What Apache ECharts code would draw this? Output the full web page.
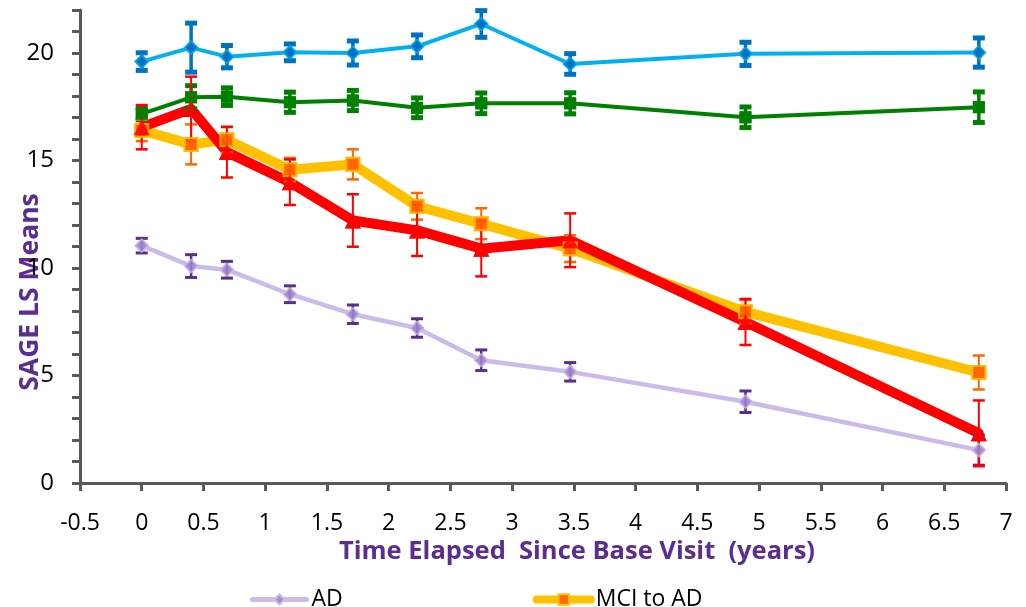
<!DOCTYPE html>
<html>
<head>
<meta charset="utf-8">
<script src="https://cdn.jsdelivr.net/npm/echarts@6/dist/echarts.min.js"></script>
<style>
  html, body { margin: 0; padding: 0; background: #fff; }
  #chart { width: 1026px; height: 607px; }
</style>
</head>
<body>
<div id="chart"></div>
<script>
// Visit times (years since base visit)
const years = [0, 0.4, 0.69, 1.2, 1.71, 2.23, 2.75, 3.47, 4.89, 6.78];

// SAGE least-squares means and error half-widths per group
const normalMean = [19.6, 20.25, 19.83, 20.03, 20.0, 20.31, 21.35, 19.49, 19.96, 20.02];
const normalErr  = [0.41, 1.14, 0.52, 0.39, 0.56, 0.53, 0.62, 0.48, 0.54, 0.68];

const mciMean = [17.17, 17.94, 17.97, 17.71, 17.79, 17.45, 17.66, 17.66, 17.01, 17.48];
const mciErr  = [0.28, 0.54, 0.41, 0.47, 0.47, 0.46, 0.48, 0.49, 0.48, 0.71];

const normalToAdMean = [16.55, 17.4, 15.39, 13.99, 12.21, 11.75, 10.9, 11.29, 7.49, 2.31];
const normalToAdErr  = [1.03, 1.5, 1.18, 1.06, 1.22, 1.19, 1.29, 1.25, 1.07, 1.53];

const mciToAdMean = [16.4, 15.75, 15.96, 14.57, 14.82, 12.87, 12.06, 10.9, 7.96, 5.14];
const mciToAdErr  = [0.5, 0.93, 0.59, 0.55, 0.7, 0.62, 0.72, 0.62, 0.55, 0.79];

const adMean = [11.04, 10.09, 9.92, 8.78, 7.85, 7.21, 5.71, 5.17, 3.78, 1.53];
const adErr  = [0.34, 0.53, 0.39, 0.39, 0.43, 0.43, 0.48, 0.43, 0.5, 0.7];

const legendNames = ['AD', 'MCI to AD'];
const xTitle = 'Time Elapsed  Since Base Visit  (years)';
const yTitle = 'SAGE LS Means';

const FONT = '"Open Sans", "Noto Sans", sans-serif';
const AXIS_GREY = '#595959';
const TITLE_PURPLE = '#5C2D91';

function pairs(means) {
  return years.map((x, i) => [x, means[i]]);
}

function lineSeries(name, means, o) {
  return {
    name: name,
    type: 'line',
    data: pairs(means),
    z: o.z,
    symbol: o.symbol,
    symbolSize: o.symbolSize,
    lineStyle: { color: o.line, width: o.width, cap: 'round', join: 'round' },
    itemStyle: { color: o.fill, borderColor: o.border, borderWidth: o.borderWidth || 0 },
    emphasis: { disabled: true },
    animation: false
  };
}

function markerSeries(means, o) {
  return {
    type: 'scatter',
    data: pairs(means),
    z: 6,
    symbol: o.symbol,
    symbolSize: o.symbolSize,
    itemStyle: { color: o.fill, borderColor: o.border, borderWidth: o.borderWidth || 0 },
    emphasis: { disabled: true },
    animation: false
  };
}

function errorSeries(means, errs, o) {
  const data = years.map((x, i) => [x, means[i] - errs[i], means[i] + errs[i]]);
  return {
    type: 'custom',
    data: data,
    z: 5,
    encode: { x: 0, y: [1, 2] },
    animation: false,
    renderItem: function (params, api) {
      const x = api.value(0);
      const lo = api.coord([x, api.value(1)]);
      const hi = api.coord([x, api.value(2)]);
      const h = o.capHalf;
      const capStyle = { stroke: o.color, lineWidth: o.capWidth };
      return {
        type: 'group',
        children: [
          { type: 'line', shape: { x1: lo[0], y1: lo[1], x2: hi[0], y2: hi[1] },
            style: { stroke: o.color, lineWidth: o.width } },
          { type: 'line', shape: { x1: hi[0] - h, y1: hi[1], x2: hi[0] + h, y2: hi[1] }, style: capStyle },
          { type: 'line', shape: { x1: lo[0] - h, y1: lo[1], x2: lo[0] + h, y2: lo[1] }, style: capStyle }
        ]
      };
    }
  };
}

const styles = {
  ad:        { line: '#CCBBEA', width: 4.5, symbol: 'diamond', symbolSize: 13, fill: '#A48FD0', border: '#CCBBEA', borderWidth: 1.5, z: 2 },
  mci:       { line: '#008000', width: 4, symbol: 'rect', symbolSize: 12, fill: '#008000', border: '#008000', z: 2 },
  normal:    { line: '#00B0F0', width: 4, symbol: 'diamond', symbolSize: 13, fill: '#0070C0', border: '#00B0F0', borderWidth: 1.5, z: 2 },
  mciToAd:   { line: '#FFC000', width: 10, symbol: 'rect', symbolSize: 13, fill: '#FF6600', border: '#FFC000', borderWidth: 2, z: 3 },
  normalToAd:{ line: '#FF0000', width: 10, symbol: 'triangle', symbolSize: 16, fill: '#FF0000', border: '#FF0000', z: 4 }
};

const errStyles = {
  ad:         { color: '#5B2D8E', width: 2.5, capWidth: 3, capHalf: 6 },
  mci:        { color: '#008000', width: 3.5, capWidth: 5, capHalf: 6 },
  normal:     { color: '#0070C0', width: 3.5, capWidth: 5, capHalf: 6 },
  mciToAd:    { color: '#FF6600', width: 2, capWidth: 2.5, capHalf: 6 },
  normalToAd: { color: '#FF0000', width: 2, capWidth: 2.5, capHalf: 6 }
};

const chart = echarts.init(document.getElementById('chart'), null, { renderer: 'canvas' });

chart.setOption({
  backgroundColor: '#ffffff',
  animation: false,
  grid: { left: 80, top: 10, width: 926, height: 473, containLabel: false },
  xAxis: {
    type: 'value',
    min: -0.5,
    max: 7,
    interval: 0.5,
    axisLine: { show: true, onZero: false, lineStyle: { color: AXIS_GREY, width: 3 } },
    axisTick: { show: true, inside: false, length: 8, lineStyle: { color: AXIS_GREY, width: 3 } },
    axisLabel: { color: '#000', fontFamily: FONT, fontSize: 23, margin: 29 },
    splitLine: { show: false }
  },
  yAxis: {
    type: 'value',
    min: 0,
    max: 22,
    interval: 1,
    axisLine: { show: true, onZero: false, lineStyle: { color: AXIS_GREY, width: 3 } },
    axisTick: { show: true, inside: false, length: 8, lineStyle: { color: AXIS_GREY, width: 3 } },
    axisLabel: {
      color: '#000', fontFamily: FONT, fontSize: 24, margin: 26,
      formatter: function (v) { return v % 5 === 0 ? String(v) : ''; }
    },
    splitLine: { show: false }
  },
  legend: {
    data: [
      { name: legendNames[0], lineStyle: { width: 5 } },
      { name: legendNames[1], lineStyle: { width: 8 } }
    ],
    left: 245,
    top: 583,
    itemWidth: 54,
    itemHeight: 13,
    itemGap: 190,
    textStyle: { color: '#000', fontFamily: FONT, fontSize: 23 },
    selectedMode: false
  },
  graphic: [
    {
      type: 'text',
      x: 577, y: 552,
      style: {
        text: xTitle, fill: TITLE_PURPLE, font: 'bold 25.5px ' + FONT,
        textAlign: 'center', textVerticalAlign: 'middle'
      }
    },
    {
      type: 'text',
      x: 30, y: 292,
      rotation: Math.PI / 2,
      style: {
        text: yTitle, fill: TITLE_PURPLE, font: 'bold 26.5px ' + FONT,
        textAlign: 'center', textVerticalAlign: 'middle'
      }
    }
  ],
  series: [
    lineSeries('AD', adMean, styles.ad),
    lineSeries('Stable MCI', mciMean, styles.mci),
    lineSeries('Normal', normalMean, styles.normal),
    lineSeries('MCI to AD', mciToAdMean, styles.mciToAd),
    lineSeries('Normal to AD', normalToAdMean, styles.normalToAd),
    errorSeries(adMean, adErr, errStyles.ad),
    errorSeries(mciMean, mciErr, errStyles.mci),
    errorSeries(normalMean, normalErr, errStyles.normal),
    errorSeries(mciToAdMean, mciToAdErr, errStyles.mciToAd),
    errorSeries(normalToAdMean, normalToAdErr, errStyles.normalToAd),
    markerSeries(adMean, styles.ad),
    markerSeries(mciMean, styles.mci),
    markerSeries(normalMean, styles.normal),
    markerSeries(mciToAdMean, styles.mciToAd),
    markerSeries(normalToAdMean, styles.normalToAd)
  ]
});
</script>
</body>
</html>
